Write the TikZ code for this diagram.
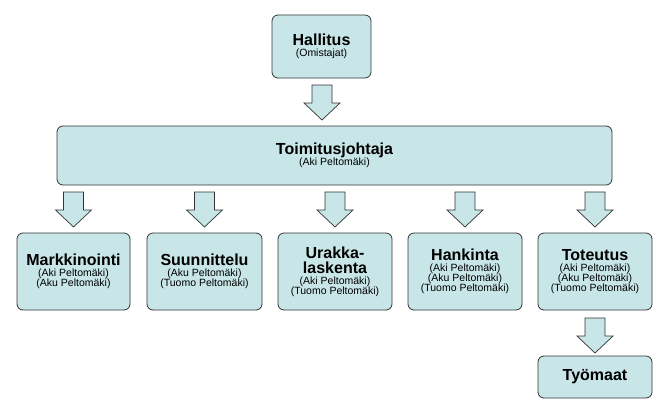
\documentclass[tikz,border=0pt]{standalone}
\usepackage{fontspec}
\setmainfont{Liberation Sans}
\definecolor{boxfill}{HTML}{C8E5E8}
\definecolor{edge}{HTML}{333333}
\newcommand{\Ttl}{\bfseries\fontsize{16}{18}\selectfont}
\newcommand{\Sbt}{\fontsize{10.5}{12}\selectfont}
\begin{document}
\begin{tikzpicture}[x=1pt,y=-1pt,
  box/.style={draw=edge,fill=boxfill,rounded corners=6pt,line width=0.8pt,align=center,inner sep=0pt},
  blockarrow/.pic={\draw[edge,fill=boxfill,line width=0.7pt] (-10,0)--(10,0)--(10,18)--(18,18)--(0,35)--(-18,18)--(-10,18)--cycle;}]
\useasboundingbox (0,0) rectangle (669,420);
\newcommand{\bx}[6]{\node[box,minimum width=#4-#2,minimum height=#5-#3] (#1) at ({(#2+#4)/2},{(#3+#5)/2}) {#6};}
\bx{hal}{272}{15}{371}{78}{{\Ttl Hallitus}\\[-1pt]{\Sbt (Omistajat)}}
\bx{toim}{57}{126}{612}{185}{{\Ttl Toimitusjohtaja}\\[-1pt]{\Sbt (Aki Peltomäki)}}
\bx{mark}{17}{233}{130}{310}{{\Ttl Markkinointi}\\[-1pt]{\Sbt (Aki Peltomäki)}\\[-2pt]{\Sbt (Aku Peltomäki)}}
\bx{suun}{147}{233}{262}{310}{{\Ttl Suunnittelu}\\[-1pt]{\Sbt (Aku Peltomäki)}\\[-2pt]{\Sbt (Tuomo Peltomäki)}}
\bx{urak}{278}{233}{392}{310}{{\Ttl Urakka-}\\[3pt]{\Ttl laskenta}\\[-1pt]{\Sbt (Aki Peltomäki)}\\[-2pt]{\Sbt (Tuomo Peltomäki)}}
\bx{hank}{408}{233}{522}{310}{{\Ttl Hankinta}\\[-1pt]{\Sbt (Aki Peltomäki)}\\[-2pt]{\Sbt (Aku Peltomäki)}\\[-2pt]{\Sbt (Tuomo Peltomäki)}}
\bx{tot}{538}{233}{652}{310}{{\Ttl Toteutus}\\[-1pt]{\Sbt (Aki Peltomäki)}\\[-2pt]{\Sbt (Aku Peltomäki)}\\[-2pt]{\Sbt (Tuomo Peltomäki)}}
\bx{tyo}{538}{356}{652}{398}{{\Ttl Työmaat}}
\pic at (322,85) {blockarrow};
\foreach \n in {mark,suun,urak,hank,tot} {\pic at (\n.north |- 0,192) {blockarrow};}
\pic at (595,318) {blockarrow};
\end{tikzpicture}
\end{document}
